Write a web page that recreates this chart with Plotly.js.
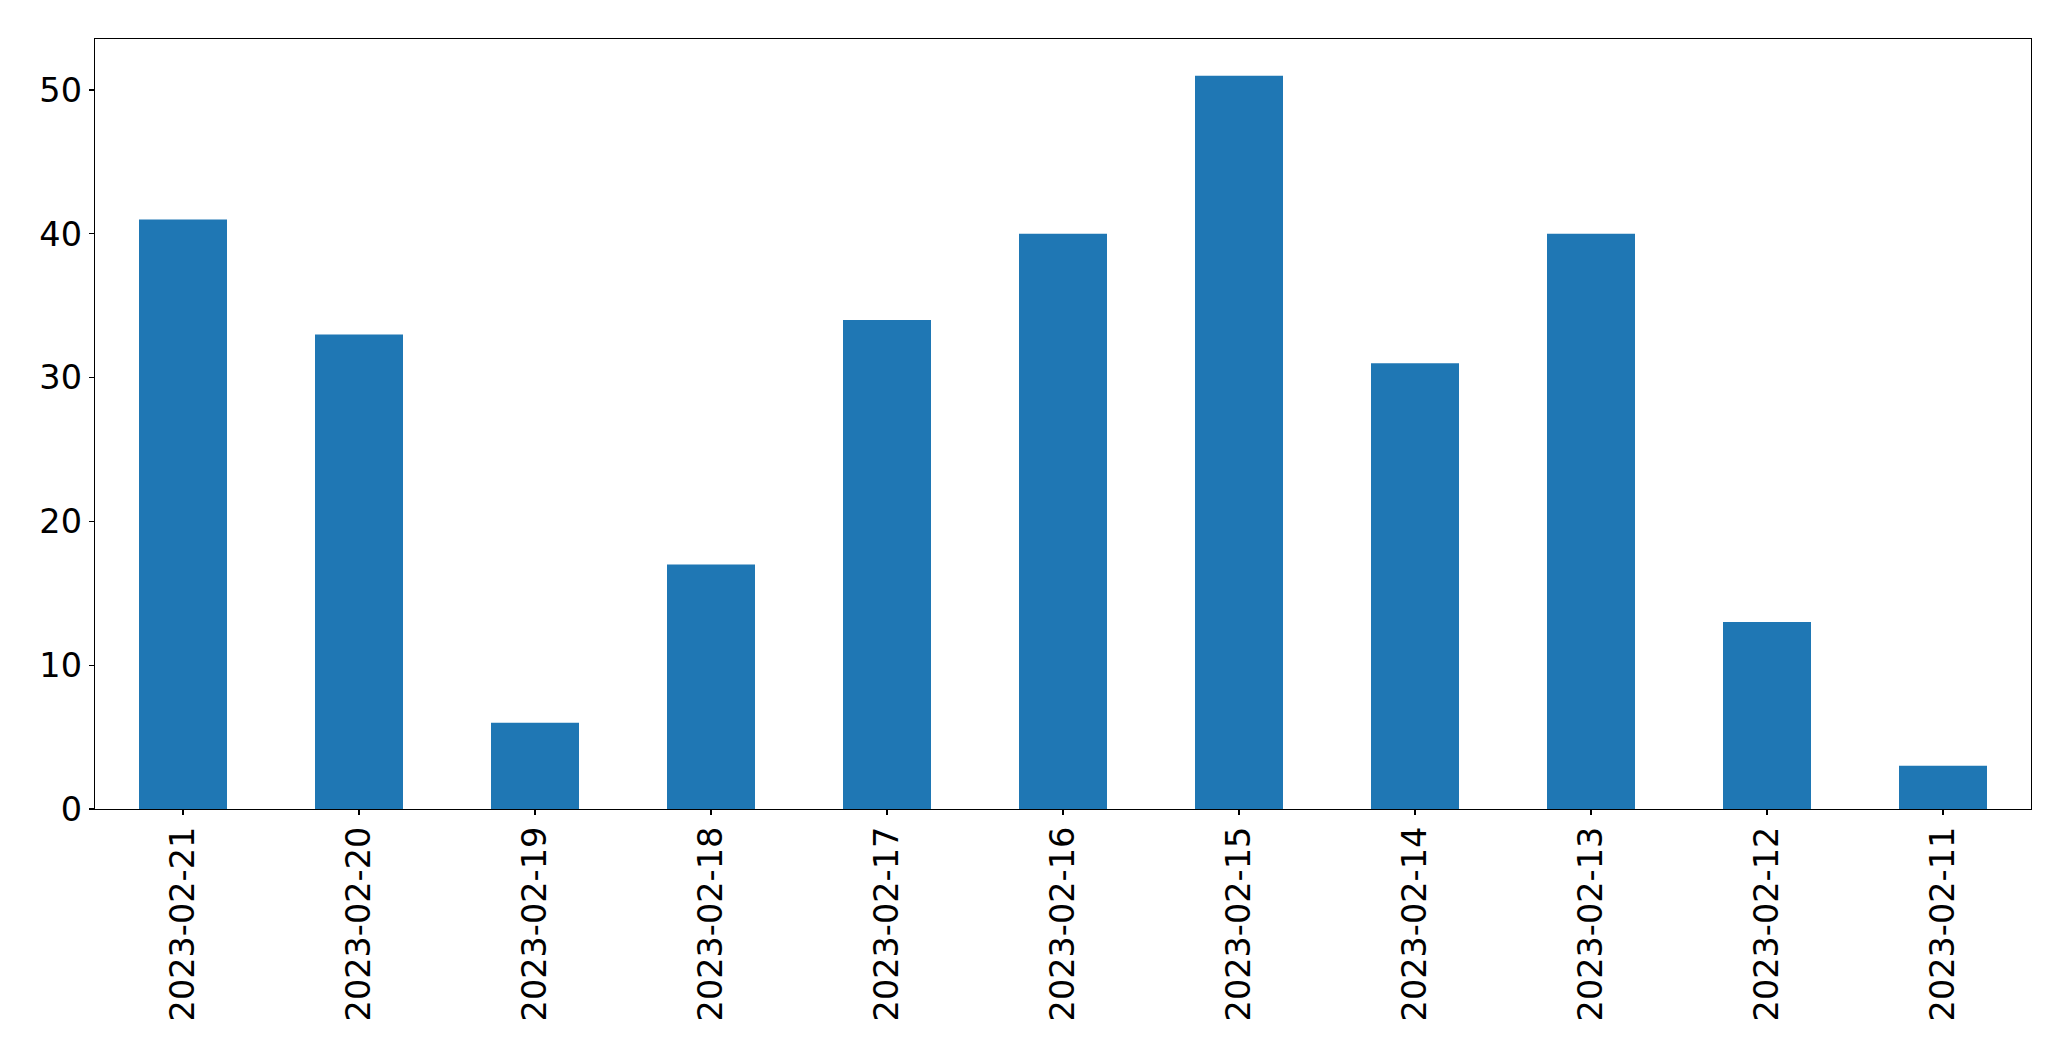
<!DOCTYPE html>
<html>
<head>
<meta charset="utf-8">
<script src="https://cdn.plot.ly/plotly-3.0.1.min.js"></script>
<style>html,body{margin:0;padding:0;background:#fff;}</style>
</head>
<body>
<div id="chart" style="width:2071px;height:1061px;"></div>
<script>
const categories = ["2023-02-21","2023-02-20","2023-02-19","2023-02-18","2023-02-17","2023-02-16","2023-02-15","2023-02-14","2023-02-13","2023-02-12","2023-02-11"];
const values = [41, 33, 6, 17, 34, 40, 51, 31, 40, 13, 3];
const yTicks = [0, 10, 20, 30, 40, 50];

const font = {family: "DejaVu Sans", size: 33.5, color: "#000"};

Plotly.newPlot("chart", [{
  type: "bar",
  x: categories,
  y: values,
  marker: {color: "#1f77b4", line: {width: 0}},
  hoverinfo: "x+y"
}], {
  width: 2071, height: 1061,
  margin: {l: 95, r: 40, t: 39, b: 252, pad: 0},
  paper_bgcolor: "#fff", plot_bgcolor: "#fff",
  bargap: 0.5,
  showlegend: false,
  font: font,
  xaxis: {
    type: "category",
    range: [-0.5, 10.5],
    tickangle: -90,
    ticks: "outside", ticklen: 5, tickwidth: 1.2, tickcolor: "#000",
    ticklabelstandoff: -2,
    showline: true, linecolor: "#000", linewidth: 1.3, mirror: true,
    showgrid: false, zeroline: false,
    tickfont: font
  },
  yaxis: {
    range: [0, 53.55],
    tickvals: yTicks,
    ticks: "outside", ticklen: 5, tickwidth: 1.2, tickcolor: "#000",
    showline: true, linecolor: "#000", linewidth: 1.3, mirror: true,
    showgrid: false, zeroline: false,
    tickfont: font
  }
}, {staticPlot: true});
</script>
</body>
</html>
